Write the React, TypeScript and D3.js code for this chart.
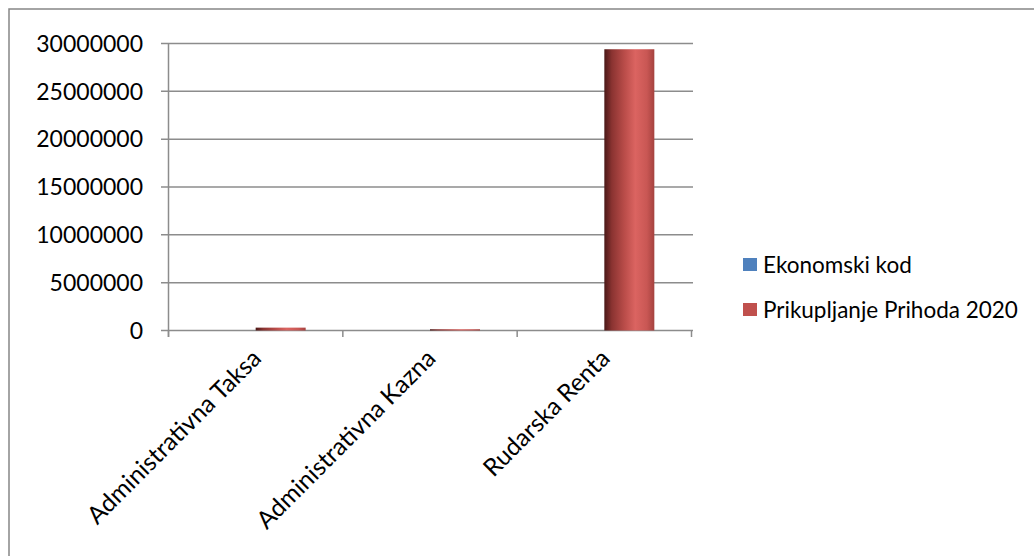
import React from "react";
import * as d3 from "d3";

const categories = ["Administrativna Taksa", "Administrativna Kazna", "Rudarska Renta"];
const seriesNames = ["Ekonomski kod", "Prikupljanje Prihoda 2020"];
const ekonomskiKod = [0, 0, 0];
const prikupljanje2020 = [300000, 130000, 29400000];
const yTicks = [0, 5000000, 10000000, 15000000, 20000000, 25000000, 30000000];
const seriesColors = ["#4f81bd", "#c0504d"];

const W = 1034;
const H = 556;
const FONT = "Lato, sans-serif";

export default function App() {
  const y = d3.scaleLinear().domain([0, 30000000]).range([330.5, 43.5]);
  const x = d3.scaleBand<string>().domain(categories).range([168.5, 691.5]).paddingInner(0).paddingOuter(0);
  const bw = x.bandwidth();
  const inner = d3.scaleBand<string>().domain(seriesNames).range([bw / 2 - 50, bw / 2 + 50]);
  const values = [ekonomskiKod, prikupljanje2020];
  const boundaries = [...categories.map((c) => x(c) as number), 691.5];

  return (
    <svg width={W} height={H} style={{ position: "absolute", left: 0, top: 0, background: "#fff" }}>
      <defs>
        <linearGradient id="redCyl" x1="0" x2="1" y1="0" y2="0">
          <stop offset="0%" stopColor="#4a1817" />
          <stop offset="15%" stopColor="#8a3331" />
          <stop offset="40%" stopColor="#b94c49" />
          <stop offset="62%" stopColor="#db6461" />
          <stop offset="85%" stopColor="#c95754" />
          <stop offset="100%" stopColor="#a5423f" />
        </linearGradient>
        <linearGradient id="blueCyl" x1="0" x2="1" y1="0" y2="0">
          <stop offset="0%" stopColor="#243c5c" />
          <stop offset="60%" stopColor="#6a9ad6" />
          <stop offset="100%" stopColor="#3f6797" />
        </linearGradient>
      </defs>
      <rect x={9} y={9} width={1040} height={560} fill="#fff" stroke="#868686" strokeWidth={1.5} />
      {yTicks.map((t) => (
        <g key={t}>
          <line x1={161} x2={693} y1={y(t)} y2={y(t)} stroke="#8c8c8c" strokeWidth={1.5} />
          <text
            x={143}
            y={y(t)}
            dy="0.36em"
            textAnchor="end"
            fontFamily={FONT}
            fontSize={23}
            fill="#000"
          >
            {t}
          </text>
        </g>
      ))}
      <line x1={168.5} x2={168.5} y1={43.5} y2={337} stroke="#8c8c8c" strokeWidth={1.5} />
      {boundaries.map((b, i) => (
        <line key={i} x1={b} x2={b} y1={330.5} y2={337} stroke="#8c8c8c" strokeWidth={1.5} />
      ))}
      {categories.map((c, ci) =>
        seriesNames.map((s, si) => {
          const v = values[si][ci];
          if (!v) return null;
          const bx = (x(c) as number) + (inner(s) as number);
          return (
            <rect
              key={c + s}
              x={bx}
              y={y(v)}
              width={inner.bandwidth()}
              height={y(0) - y(v)}
              fill={si === 1 ? "url(#redCyl)" : "url(#blueCyl)"}
            />
          );
        })
      )}
      {categories.map((c) => {
        const cx = (x(c) as number) + bw / 2 + 7;
        const cy = 360;
        return (
          <text
            key={c}
            x={cx}
            y={cy}
            transform={`rotate(-45 ${cx} ${cy})`}
            textAnchor="end"
            fontFamily={FONT}
            fontSize={24.5}
            fill="#000"
          >
            {c}
          </text>
        );
      })}
      {seriesNames.map((s, i) => (
        <g key={s} transform={`translate(743, ${258 + i * 45})`}>
          <rect x={0} y={0} width={14} height={13} fill={seriesColors[i]} />
          <text x={20} y={6.5} dy="0.36em" fontFamily={FONT} fontSize={22.5} fill="#000">
            {s}
          </text>
        </g>
      ))}
    </svg>
  );
}
